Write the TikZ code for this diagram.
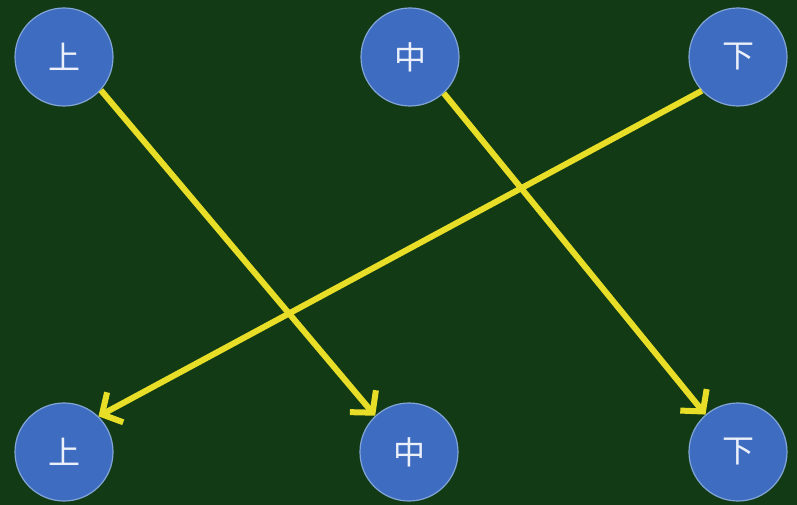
\documentclass[tikz,border=0pt]{standalone}
\usepackage{fontspec}
\newfontfamily\cjk{Noto Sans CJK SC}
\usetikzlibrary{arrows.meta}
\definecolor{board}{RGB}{17,58,21}
\definecolor{cball}{RGB}{62,108,192}
\definecolor{cedge}{RGB}{130,165,215}
\definecolor{cline}{RGB}{232,222,40}
\definecolor{ctext}{RGB}{235,240,250}
\tikzset{
  ball/.style={circle,fill=cball,draw=cedge,line width=1.2pt,minimum size=98pt,inner sep=0pt,
    text=ctext,font=\cjk\fontsize{32}{32}\selectfont},
  link/.style={cline,line width=6pt,-{Straight Barb[length=15pt,width=34pt]}}
}

\begin{document}
\begin{tikzpicture}[x=1pt,y=-1pt]
    \fill[board] (0,0) rectangle (797,505);
    \useasboundingbox (0,0) rectangle (797,505);
    % top row
    \node[ball] (u1) at (64,57)  {上};
    \node[ball] (m1) at (410,57) {中};
    \node[ball] (d1) at (738,57) {下};
    % bottom row
    \node[ball] (u2) at (64,452)  {上};
    \node[ball] (m2) at (409,452) {中};
    \node[ball] (d2) at (738,452) {下};
    \draw[link] (u1.318) -- (m2.133);
    \draw[link] (m1.313) -- (d2.131);
    \draw[link] (d1.223) -- (u2.46);
  \end{tikzpicture}
\end{document}
